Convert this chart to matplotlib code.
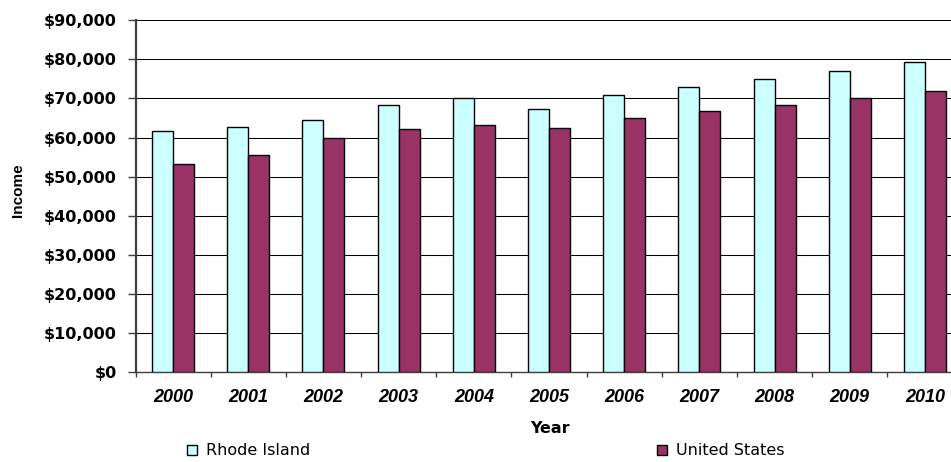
import matplotlib.pyplot as plt
import numpy as np
from matplotlib.ticker import FixedLocator, FuncFormatter

years = ['2000', '2001', '2002', '2003', '2004', '2005',
         '2006', '2007', '2008', '2009', '2010']
rhode_island = [61700, 62700, 64400, 68400, 70100, 67400,
                70900, 72900, 75000, 77100, 79200]
united_states = [53200, 55600, 60000, 62100, 63100, 62400,
                 64900, 66700, 68400, 70100, 71800]
y_ticks = [0, 10000, 20000, 30000, 40000, 50000, 60000, 70000, 80000, 90000]

ri_color = '#CCFFFF'
us_color = '#993366'
axis_gray = '#404040'

fig = plt.figure(figsize=(9.51, 4.62), dpi=100)
# plot area runs a little past the right edge of the figure
ax = fig.add_axes([0.1425, 0.1948, 0.8696, 0.7613])

x = np.arange(len(years))
w = 0.279
ax.bar(x - w / 2, rhode_island, w, color=ri_color, edgecolor='black',
       linewidth=1.0, label='Rhode Island', zorder=3)
ax.bar(x + w / 2, united_states, w, color=us_color, edgecolor='black',
       linewidth=1.0, label='United States', zorder=3)

ax.set_xlim(-0.5, len(years) - 0.5)
ax.set_ylim(0, 90000)

ax.set_yticks(y_ticks)
ax.yaxis.set_major_formatter(FuncFormatter(lambda v, p: '${:,.0f}'.format(v)))
ax.yaxis.grid(True, color='black', linewidth=0.75, zorder=0)
ax.set_axisbelow(True)

ax.set_xticks(x)
ax.set_xticklabels(years)
ax.xaxis.set_minor_locator(FixedLocator(np.arange(-0.5, len(years), 1.0)))

ax.tick_params(axis='y', direction='out', length=6, width=1, color=axis_gray,
               pad=7.5, labelsize=11.5)
ax.tick_params(axis='x', which='major', length=0, pad=12.5)
ax.tick_params(axis='x', which='minor', direction='out', length=3.5,
               width=1, color=axis_gray)

for lab in ax.get_yticklabels():
    lab.set_fontfamily('DejaVu Sans')
    lab.set_fontweight('bold')
for lab in ax.get_xticklabels():
    lab.set_fontfamily('Liberation Sans')
    lab.set_fontweight('bold')
    lab.set_fontstyle('italic')
    lab.set_fontsize(13)

for side in ['top', 'right']:
    ax.spines[side].set_visible(False)
ax.spines['left'].set_color(axis_gray)
ax.spines['left'].set_linewidth(1.6)
ax.spines['bottom'].set_color(axis_gray)
ax.spines['bottom'].set_linewidth(1.0)

ax.set_ylabel('Income', fontfamily='Liberation Sans', fontweight='bold',
              fontsize=11, va='center')
ax.yaxis.set_label_coords(-0.142, 0.517)
ax.set_xlabel('Year', fontfamily='DejaVu Sans', fontweight='bold',
              fontsize=11.5, va='center')
ax.xaxis.set_label_coords(0.501, -0.162)

fig.legend(loc='center left', bbox_to_anchor=(0.1882, 0.024), ncol=2,
           frameon=False, borderpad=0, handlelength=0.6, handleheight=0.6,
           handletextpad=0.6, columnspacing=21.7,
           prop={'family': 'DejaVu Sans', 'size': 11.5})

fig.savefig('out.png', dpi=100)
